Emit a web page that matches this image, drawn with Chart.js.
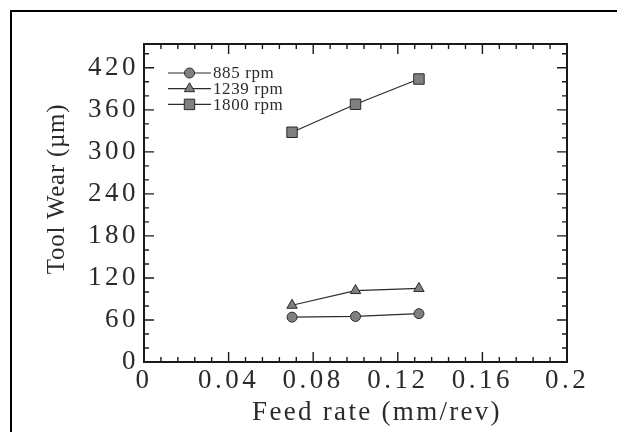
<!DOCTYPE html>
<html>
<head>
<meta charset="utf-8">
<title>Tool wear vs feed rate</title>
<script src="https://cdn.jsdelivr.net/npm/chart.js@4/dist/chart.umd.min.js"></script>
<style>
   html, body {
      margin: 0;
      padding: 0;
      background: #ffffff;
   }
   #wrap {
      width: 617px;
      height: 432px;
   }
</style>
</head>
<body>
<div id="wrap">
   <canvas id="wearChart" width="617" height="432"></canvas>
</div>
<script>
// feed rate (mm/rev) and tool wear (µm) per spindle speed
const feedRates = [0.07, 0.10, 0.13];
const wear885 = [64, 65, 69];
const wear1239 = [81, 102, 105];
const wear1800 = [328, 368, 404];
const seriesLabels = ["885 rpm", "1239 rpm", "1800 rpm"];

const xTickLabels = [0, 0.04, 0.08, 0.12, 0.16, 0.2];
const yTickLabels = [0, 60, 120, 180, 240, 300, 360, 420];

const SERIF = "'Liberation Serif', 'DejaVu Serif', serif";
const INK = "#2b2b2b";
const MARKER_FILL = "#808080";

function toPoints(values) {
   return values.map((y, i) => ({ x: feedRates[i], y }));
}

function matchTick(value, list) {
   return list.find((t) => Math.abs(t - value) < 1e-9);
}

// wider glyph spacing for tick labels, like the stretched serif text of the figure
const spacingPlugin = {
   id: "spacing",
   beforeDraw(chart) {
      chart.ctx.letterSpacing = "3.5px";
   },
   afterDraw(chart) {
      chart.ctx.letterSpacing = "0px";
   }
};

// plot box with inward tick marks on all four sides
const framePlugin = {
   id: "frame",
   afterDraw(chart) {
      const { ctx, chartArea: area } = chart;
      const xScale = chart.scales.x;
      const yScale = chart.scales.y;

      ctx.save();
      ctx.letterSpacing = "0px";
      ctx.strokeStyle = "#1a1a1a";

      ctx.lineWidth = 1.4;
      xScale.ticks.forEach((tick) => {
         const px = xScale.getPixelForValue(tick.value);
         const len = tick.label !== "" ? 10 : 5;
         ctx.beginPath();
         ctx.moveTo(px, area.bottom);
         ctx.lineTo(px, area.bottom - len);
         ctx.moveTo(px, area.top);
         ctx.lineTo(px, area.top + len);
         ctx.stroke();
      });
      yScale.ticks.forEach((tick) => {
         const py = yScale.getPixelForValue(tick.value);
         const len = tick.label !== "" ? 10 : 5;
         ctx.beginPath();
         ctx.moveTo(area.left, py);
         ctx.lineTo(area.left + len, py);
         ctx.moveTo(area.right, py);
         ctx.lineTo(area.right - len, py);
         ctx.stroke();
      });

      ctx.lineWidth = 2;
      ctx.strokeRect(area.left, area.top, area.right - area.left, area.bottom - area.top);

      // outer page frame, open to the right and bottom
      ctx.strokeStyle = "#000000";
      ctx.beginPath();
      ctx.moveTo(11, chart.height);
      ctx.lineTo(11, 11);
      ctx.lineTo(chart.width, 11);
      ctx.stroke();
      ctx.restore();
   }
};

// axis titles
const titlesPlugin = {
   id: "axisTitles",
   afterDraw(chart) {
      const { ctx, chartArea: area } = chart;
      ctx.save();
      ctx.fillStyle = INK;

      ctx.font = `27px ${SERIF}`;
      ctx.letterSpacing = "2.3px";
      ctx.textAlign = "center";
      ctx.textBaseline = "alphabetic";
      ctx.fillText("Feed rate (mm/rev)", area.left + 233, area.bottom + 58);

      ctx.font = `25px ${SERIF}`;
      ctx.letterSpacing = "0.7px";
      ctx.translate(area.left - 87, area.top + 145);
      ctx.rotate(-Math.PI / 2);
      ctx.textBaseline = "middle";
      ctx.fillText("Tool Wear (µm)", 0, 0);
      ctx.restore();
   }
};

// legend in the upper left of the plot: line through marker, then label
const legendPlugin = {
   id: "insetLegend",
   afterDatasetsDraw(chart) {
      const { ctx, chartArea: area } = chart;
      const x0 = area.left + 24;
      const x1 = area.left + 67;
      const mid = (x0 + x1) / 2;

      ctx.save();
      ctx.letterSpacing = "0.6px";
      ctx.font = `17px ${SERIF}`;
      ctx.textBaseline = "middle";
      ctx.textAlign = "left";

      chart.data.datasets.forEach((ds, i) => {
         const y = area.top + 29 + i * 15.7;
         ctx.strokeStyle = ds.borderColor;
         ctx.lineWidth = ds.borderWidth;
         ctx.beginPath();
         ctx.moveTo(x0, y);
         ctx.lineTo(x1, y);
         ctx.stroke();

         ctx.fillStyle = ds.pointBackgroundColor;
         ctx.strokeStyle = ds.pointBorderColor;
         ctx.lineWidth = ds.pointBorderWidth;
         Chart.helpers.drawPoint(ctx, {
            pointStyle: ds.pointStyle,
            radius: ds.pointRadius,
            borderWidth: ds.pointBorderWidth,
            rotation: 0
         }, mid, y);

         ctx.fillStyle = INK;
         ctx.fillText(ds.label, x1 + 2, y + 1);
      });
      ctx.restore();
   }
};

function makeSeries(label, values, pointStyle, radius) {
   return {
      label,
      data: toPoints(values),
      borderColor: INK,
      borderWidth: 1.2,
      pointStyle,
      pointRadius: radius,
      pointHoverRadius: radius,
      pointBackgroundColor: MARKER_FILL,
      pointBorderColor: INK,
      pointBorderWidth: 1,
      tension: 0,
      fill: false
   };
}

new Chart(document.getElementById("wearChart"), {
   type: "line",
   data: {
      datasets: [
         makeSeries(seriesLabels[0], wear885, "circle", 5),
         makeSeries(seriesLabels[1], wear1239, "triangle", 6),
         makeSeries(seriesLabels[2], wear1800, "rect", 7.4)
      ]
   },
   options: {
      responsive: false,
      animation: false,
      devicePixelRatio: 1,
      layout: {
         padding: { left: 0, top: 44, right: 50, bottom: 0 }
      },
      plugins: {
         legend: { display: false },
         tooltip: { enabled: false }
      },
      scales: {
         x: {
            type: "linear",
            min: 0,
            max: 0.2,
            grid: { display: false, drawTicks: false },
            border: { display: false },
            afterFit(scale) {
               scale.height = 70;
            },
            ticks: {
               stepSize: 0.008,
               includeBounds: false,
               autoSkip: false,
               maxRotation: 0,
               padding: 3,
               color: INK,
               font: { family: SERIF, size: 27 },
               callback(value) {
                  const t = matchTick(value, xTickLabels);
                  return t === undefined ? "" : String(t);
               }
            }
         },
         y: {
            type: "linear",
            min: 0,
            max: 454,
            grid: { display: false, drawTicks: false },
            border: { display: false },
            afterFit(scale) {
               scale.width = 144;
            },
            ticks: {
               stepSize: 20,
               includeBounds: false,
               autoSkip: false,
               padding: 5,
               color: INK,
               font: { family: SERIF, size: 27 },
               callback(value) {
                  const t = matchTick(value, yTickLabels);
                  return t === undefined ? "" : String(t);
               }
            }
         }
      }
   },
   plugins: [spacingPlugin, legendPlugin, framePlugin, titlesPlugin]
});
</script>
</body>
</html>
